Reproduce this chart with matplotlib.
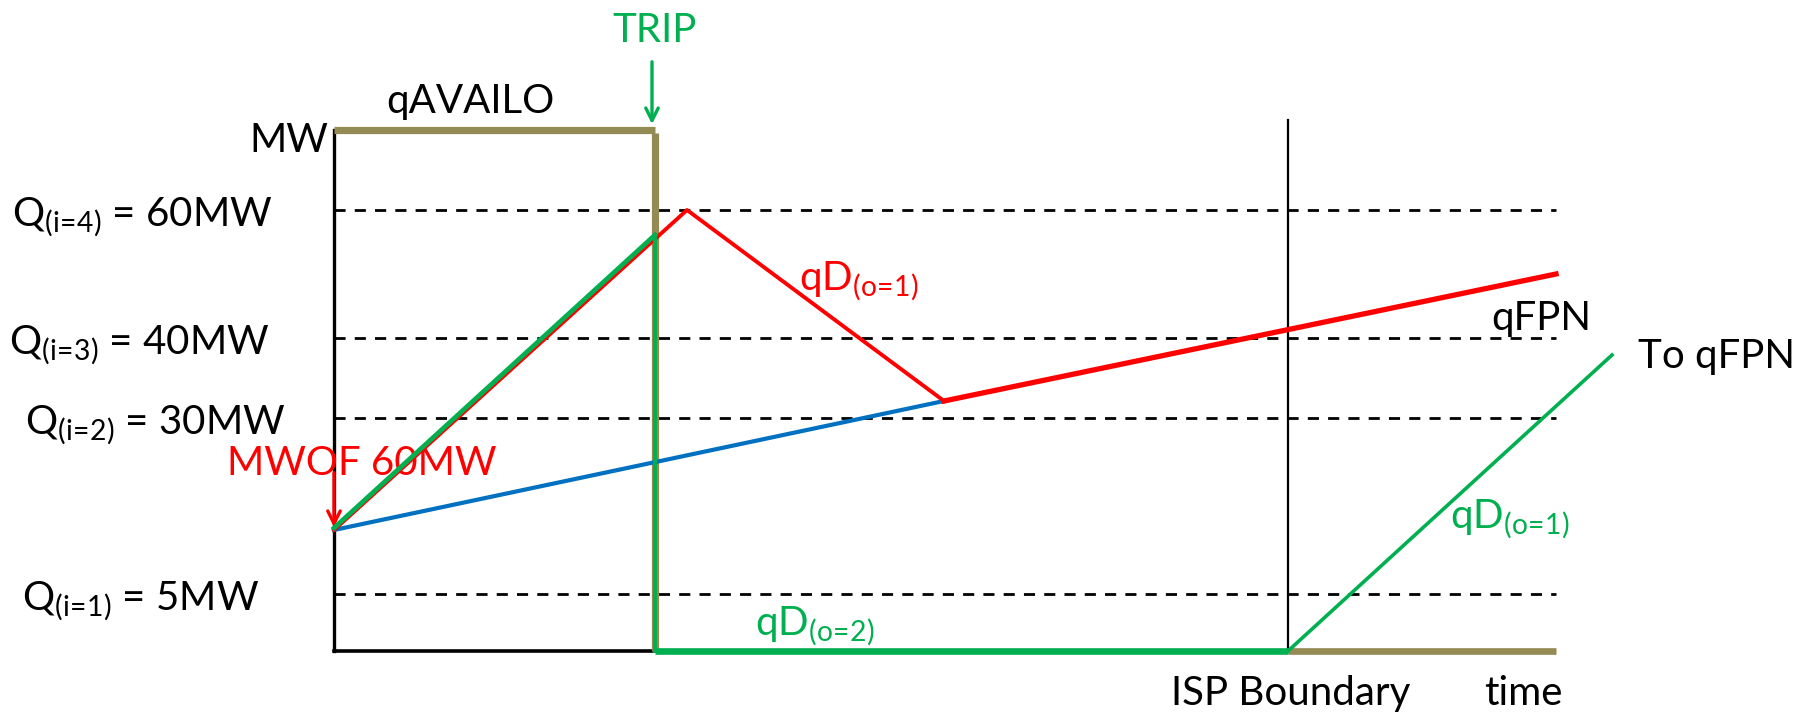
import matplotlib.pyplot as plt

plt.rcParams['font.family'] = ['Lato', 'DejaVu Sans']
plt.rcParams['mathtext.fontset'] = 'custom'
plt.rcParams['mathtext.rm'] = 'Lato'
plt.rcParams['mathtext.it'] = 'Lato'

# schematic time positions (not to scale)
t_trip = 321
t_peak = 353
t_low = 610
t_isp = 954
t_end = 1222
t_green_end = 1278

# schematic MW levels (not to scale)
q_levels = [441, 313, 233, 57]
q_labels = [r'Q$_{(i\!=\!4)}$ = 60MW', r'Q$_{(i\!=\!3)}$ = 40MW',
            r'Q$_{(i\!=\!2)}$ = 30MW', r'Q$_{(i\!=\!1)}$ = 5MW']
q_label_x = [-322, -325, -309, -312]
lvl_start = 121
lvl_availo = 521
lvl_trip_meet = 416
lvl_low = 250
lvl_end = 377
lvl_green_end = 296
lvl_isp_top = 531

BROWN = '#948A54'
GREEN = '#00B050'
RED = '#FF0000'
BLUE = '#0070C0'

fig = plt.figure(figsize=(18, 7.13), dpi=100)
ax = fig.add_axes([0, 0, 1, 1])
ax.set_xlim(-334, 1466)
ax.set_ylim(-62, 651)
ax.axis('off')

# dashed Q levels
for lvl, lab, lx in zip(q_levels, q_labels, q_label_x):
    ax.plot([0, t_end], [lvl, lvl], color='black', lw=2, ls=(0, (4, 3.3)), zorder=1)
    ax.text(lx, lvl - 16, lab, fontsize=29, va='baseline', ha='left')

# axes
ax.plot([0, 0], [0, lvl_availo], color='black', lw=2.4, zorder=2)
ax.plot([0, t_trip], [0, 0], color='black', lw=2.6, zorder=2)
ax.plot([t_isp, t_isp], [0, lvl_isp_top], color='black', lw=1.6, zorder=2)

# qAVAILO
ax.plot([0, t_trip], [lvl_availo, lvl_availo], color=BROWN, lw=5.2, solid_capstyle='butt', zorder=3)
ax.plot([t_trip, t_trip], [lvl_availo - 3, 0], color=BROWN, lw=5.2, solid_capstyle='butt', zorder=3)
ax.plot([t_isp, t_end], [0, 0], color=BROWN, lw=4.8, solid_capstyle='butt', zorder=3)

# qFPN
ax.plot([0, t_low], [lvl_start, lvl_low], color=BLUE, lw=3, zorder=4)
ax.plot([0, t_peak, t_low], [lvl_start, lvl_availo - 80, lvl_low], color=RED, lw=2.8, zorder=4)
ax.plot([t_low, t_end], [lvl_low, lvl_end], color=RED, lw=3.8, zorder=4)

# green path after trip
ax.plot([0, t_trip], [lvl_start + 2, lvl_trip_meet], color=GREEN, lw=3.4, zorder=5)
ax.plot([t_trip, t_trip], [lvl_trip_meet, 0], color=GREEN, lw=2.8, zorder=5)
ax.plot([t_trip, t_isp], [0, 0], color=GREEN, lw=4.8, solid_capstyle='butt', zorder=5)
ax.plot([t_isp, t_green_end], [0, lvl_green_end], color=GREEN, lw=2.6, zorder=5)

# arrows
ax.annotate('', xy=(t_trip - 3, lvl_availo + 3), xytext=(t_trip - 3, 592),
            arrowprops=dict(arrowstyle='->,head_length=0.9,head_width=0.45', color=GREEN, lw=2.4))
ax.annotate('', xy=(0, lvl_start), xytext=(0, 181),
            arrowprops=dict(arrowstyle='->,head_length=0.9,head_width=0.45', color=RED, lw=2.4))

# labels
ax.text(-6, 499, 'MW', fontsize=29, ha='right', va='baseline')
ax.text(52, 538, 'qAVAILO', fontsize=29, ha='left', va='baseline')
ax.text(321, 609, 'TRIP', fontsize=29, ha='center', va='baseline', color=GREEN)
ax.text(-107, 176, 'MWOF 60MW', fontsize=29, ha='left', va='baseline', color=RED)
ax.text(465, 361, r'qD$_{(o\!=\!1)}$', fontsize=29, ha='left', va='baseline', color=RED)
ax.text(1157, 321, 'qFPN', fontsize=29, ha='left', va='baseline')
ax.text(1304, 283, 'To qFPN', fontsize=29, ha='left', va='baseline')
ax.text(1116, 123, r'qD$_{(o\!=\!1)}$', fontsize=29, ha='left', va='baseline', color=GREEN)
ax.text(421, 16, r'qD$_{(o\!=\!2)}$', fontsize=29, ha='left', va='baseline', color=GREEN)
ax.text(837, -54, 'ISP Boundary', fontsize=29, ha='left', va='baseline')
ax.text(1150, -54, 'time', fontsize=29, ha='left', va='baseline')

fig.savefig('out.png', dpi=100)
